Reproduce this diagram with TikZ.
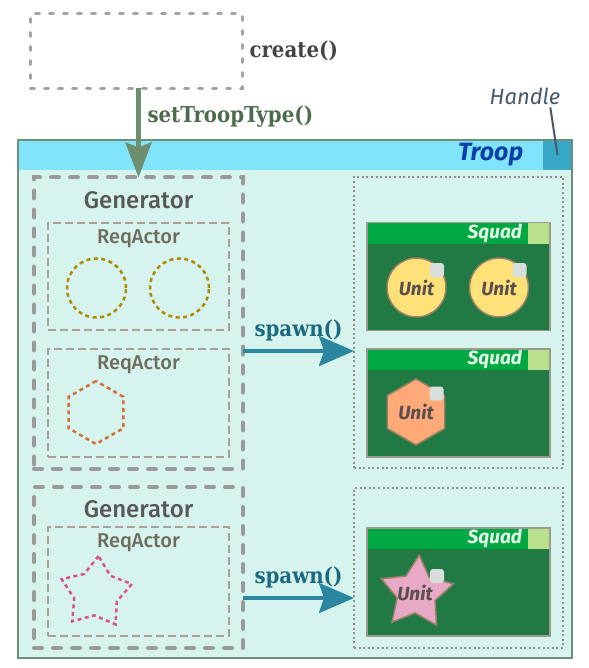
\documentclass[tikz,border=0pt]{standalone}
\usepackage{fontspec}
\setmainfont{Fira Sans}
\newfontfamily\slabfont{DejaVu Serif Condensed}
\newfontfamily\medfont{Fira Sans Medium}
\usepackage{xcolor}
\usepackage{tikz}
\usetikzlibrary{shapes.geometric, arrows.meta, positioning}

\definecolor{troopbody}{HTML}{D7F3EE}
\definecolor{troophead}{HTML}{80E5FB}
\definecolor{troopline}{HTML}{6B8F78}
\definecolor{handlecol}{HTML}{38A8C6}
\definecolor{handletext}{HTML}{46596A}
\definecolor{troopblue}{HTML}{0B3FA8}
\definecolor{dashgray}{HTML}{A3A3A3}
\definecolor{gengray}{HTML}{9A9A9A}
\definecolor{gentext}{HTML}{58585A}
\definecolor{reqgray}{HTML}{A9A098}
\definecolor{reqtext}{HTML}{6E6C5E}
\definecolor{poolgray}{HTML}{8E8E8E}
\definecolor{squadbody}{HTML}{217A44}
\definecolor{squadhead}{HTML}{00A843}
\definecolor{squadtab}{HTML}{B9E08B}
\definecolor{squadline}{HTML}{9A9A90}
\definecolor{squadtext}{HTML}{E6FFE9}
\definecolor{unittext}{HTML}{5A4F4F}
\definecolor{unitline}{HTML}{9A8066}
\definecolor{unityellow}{HTML}{FFE17A}
\definecolor{unitorange}{HTML}{FFAA78}
\definecolor{unitpink}{HTML}{E8A9C6}
\definecolor{badgegray}{HTML}{D8DEDC}
\definecolor{olivecol}{HTML}{B08A00}
\definecolor{orangecol}{HTML}{D2703A}
\definecolor{pinkcol}{HTML}{D9548A}
\definecolor{createtext}{HTML}{444444}
\definecolor{setcol}{HTML}{6E8F6E}
\definecolor{settext}{HTML}{4D6B4D}
\definecolor{spawncol}{HTML}{2B87A0}
\definecolor{spawntext}{HTML}{1B6A80}

\begin{document}
\begin{tikzpicture}[x=1pt, y=-1pt,
  boxnode/.style={rectangle, inner sep=0pt, outer sep=0pt},
  txt/.style={inner sep=0pt, outer sep=0pt},
  creatorbox/.style={boxnode, draw=dashgray, line width=3pt, line cap=round, dash pattern=on 4pt off 10pt},
  genbox/.style={boxnode, draw=gengray, line width=4pt, line cap=round, dash pattern=on 8pt off 11pt},
  reqbox/.style={boxnode, draw=reqgray, line width=2.5pt, dash pattern=on 8pt off 4pt},
  poolbox/.style={boxnode, draw=poolgray, line width=1.2pt, dash pattern=on 2pt off 2.6pt},
  squadbox/.style={boxnode, fill=squadbody, minimum width=183pt, minimum height=108pt},
  actorline/.style={line width=2.5pt, dash pattern=on 4pt off 3.5pt, inner sep=0pt},
  gentitle/.style={txt, text=gentext, font=\medfont\fontsize{24}{24}\selectfont},
  reqtitle/.style={txt, text=reqtext, font=\medfont\fontsize{20}{20}\selectfont},
  slab/.style={txt, font=\slabfont\bfseries\fontsize{22}{22}\selectfont},
  unitnode/.style={text=unittext, font=\bfseries\itshape\fontsize{19}{19}\selectfont, inner sep=0pt, draw=unitline, line width=1.5pt},
  badge/.style={boxnode, fill=badgegray, minimum size=14pt, rounded corners=3pt},
  setarrow/.style={draw=setcol, line width=4.5pt, -{Stealth[length=35pt, width=26pt, inset=5pt]}},
  spawnarrow/.style={draw=spawncol, line width=4pt, -{Stealth[length=35pt, width=30pt, inset=5pt]}}]

  \useasboundingbox (0,0) rectangle (588,668);

  \node[creatorbox, minimum width=212pt, minimum height=75pt] (creator) at (136.5,51) {};
  \node[slab, text=createtext, right=7pt of creator] (createlbl) {create()};

  \node[boxnode, fill=troopbody, minimum width=554pt, minimum height=518pt] (troop) at (295,399) {};
  \node[boxnode, fill=troophead, minimum width=554pt, minimum height=30pt, anchor=north west] (trhead) at (troop.north west) {};
  \node[boxnode, fill=handlecol, minimum width=29pt, minimum height=30pt, anchor=north east] (handle) at (troop.north east) {};
  \node[txt, text=troopblue, font=\bfseries\itshape\fontsize{25}{25}\selectfont, left=20pt of handle] (trooplbl) {Troop};
  \draw[troopline, line width=2pt] (troop.north west) rectangle (troop.south east);
  \node[txt, text=handletext, font=\itshape\fontsize{22}{22}\selectfont] (handlelbl) at (525,96) {Handle};
  \draw[handletext, line width=2pt] ([xshift=-10pt, yshift=-3pt]handlelbl.south east) -- (handle.center);

  \node[genbox, minimum width=209pt, minimum height=291pt] (gen1) at (138.5,323) {};
  \node[gentitle, below=14pt of gen1.north] (gentitle1) {Generator};
  \node[reqbox, minimum width=181pt, minimum height=107pt] (req1) at (138.5,276.5) {};
  \node[reqtitle, below=7pt of req1.north] (reqlbl1) {ReqActor};
  \node[circle, actorline, draw=olivecol, minimum size=59pt] (actor1) at (96.5,288) {};
  \node[circle, actorline, draw=olivecol, minimum size=59pt] (actor2) at (179.5,288) {};
  \node[reqbox, minimum width=181pt, minimum height=108pt] (req2) at (138.5,403) {};
  \node[reqtitle, below=7pt of req2.north] (reqlbl2) {ReqActor};
  \node[regular polygon, regular polygon sides=6, shape border rotate=30, actorline, draw=orangecol, minimum size=63pt] (actor3) at (96,412.5) {};

  \node[genbox, minimum width=209pt, minimum height=161pt] (gen2) at (138.5,567.5) {};
  \node[gentitle, below=14pt of gen2.north] (gentitle2) {Generator};
  \node[reqbox, minimum width=181pt, minimum height=109pt] (req3) at (138.5,581.5) {};
  \node[reqtitle, below=7pt of req3.north] (reqlbl3) {ReqActor};
  \node[star, star points=5, star point ratio=1.65, shape border rotate=-4, actorline, draw=pinkcol, minimum size=74pt] (actor4) at (96,593) {};

  \node[poolbox, minimum width=209pt, minimum height=291pt] (pool1) at (458.5,322.5) {};
  \node[poolbox, minimum width=209pt, minimum height=160pt] (pool2) at (458.5,568) {};

  \node[squadbox] (squad1) at (458.5,276.5) {};
  \node[squadbox] (squad2) at (458.5,403) {};
  \node[squadbox] (squad3) at (458.5,582) {};
  \foreach \s in {squad1,squad2,squad3}{
    \node[boxnode, fill=squadhead, minimum width=183pt, minimum height=21pt, anchor=north west] (\s-head) at (\s.north west) {};
    \node[boxnode, fill=squadtab, minimum width=22pt, minimum height=21pt, anchor=north east] (\s-tab) at (\s.north east) {};
    \node[txt, text=squadtext, font=\bfseries\itshape\fontsize{19}{19}\selectfont, left=6pt of \s-tab] (\s-lbl) {Squad};
    \draw[squadline, line width=1.2pt] (\s.north west) rectangle (\s.south east);
  }

  \node[circle, unitnode, fill=unityellow, minimum size=59pt] (unit1) at (416.5,287.5) {Unit};
  \node[badge] (badge1) at ([shift={(20.5,-17.5)}]unit1.center) {};
  \node[circle, unitnode, fill=unityellow, minimum size=59pt] (unit2) at (499,287.5) {Unit};
  \node[badge] (badge2) at ([shift={(20.5,-17.5)}]unit2.center) {};
  \node[regular polygon, regular polygon sides=6, shape border rotate=30, unitnode, fill=unitorange, minimum size=66pt] (unit3) at (416,412) {Unit};
  \node[badge] (badge3) at ([shift={(20.5,-18.5)}]unit3.center) {};
  \node[star, star points=5, star point ratio=1.9, shape border rotate=-4, unitnode, fill=unitpink, minimum size=76pt] (unit4) at (416.5,593) {};
  \node[txt, unitnode, draw=none] (unit4lbl) at ([xshift=-1.5pt]unit4.center) {Unit};
  \node[badge] (badge4) at ([shift={(20.5,-17)}]unit4.center) {};

  \draw[setarrow] (creator.south -| gen1.north) -- (gen1.north) node[pos=0.32, right=9pt, slab, text=settext] (setlbl) {setTroopType()};
  \draw[spawnarrow] ([yshift=-28pt]gen1.east) -- ([yshift=-28.5pt]pool1.west) node[midway, above=10pt, slab, text=spawntext] (spawnlbl1) {spawn()};
  \draw[spawnarrow] ([yshift=-30.5pt]gen2.east) -- ([yshift=-30pt]pool2.west) node[midway, above=10pt, slab, text=spawntext] (spawnlbl2) {spawn()};
\end{tikzpicture}
\end{document}
